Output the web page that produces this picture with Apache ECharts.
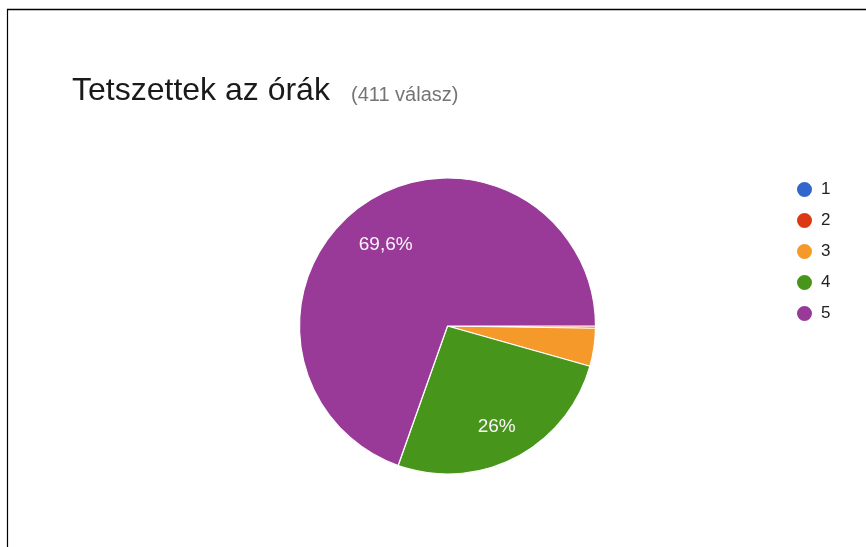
<!DOCTYPE html>
<html>
<head>
<meta charset="utf-8">
<script src="https://cdn.jsdelivr.net/npm/echarts@6/dist/echarts.min.js"></script>
<style>
html,body{margin:0;padding:0;background:#fff;}
#c{width:866px;height:547px;}
</style>
</head>
<body>
<div id="c"></div>
<script>
const titleText = 'Tetszettek az órák';
const subtitleText = '(411 válasz)';
const categories = ['1', '2', '3', '4', '5'];
const counts = [0, 1, 17, 107, 286];
const colors = ['#3366cc', '#dc3912', '#f5992b', '#47961b', '#993a99'];
const shownLabels = ['69,6%', '26%'];

const total = counts.reduce((a, b) => a + b, 0);
function fmtPct(v) {
  const p = Math.round(v / total * 1000) / 10;
  return String(p).replace('.', ',') + '%';
}
const pieData = categories.map((c, i) => ({ name: c, value: counts[i], itemStyle: { color: colors[i] } }));
const labelData = categories.map((c, i) => {
  const txt = fmtPct(counts[i]);
  return { name: c, value: counts[i], label: { show: shownLabels.includes(txt) } };
});

const FONT = 'Liberation Sans';
const chart = echarts.init(document.getElementById('c'), null, { renderer: 'canvas' });
chart.setOption({
  animation: false,
  backgroundColor: '#fff',
  title: [
    {
      left: 67, top: 70,
      text: titleText,
      textStyle: { fontFamily: FONT, fontSize: 32, fontWeight: 'normal', color: '#1a1a1a' }
    },
    {
      left: 346, top: 80,
      text: subtitleText,
      textStyle: { fontFamily: FONT, fontSize: 20, fontWeight: 'normal', color: '#757575' }
    }
  ],
  legend: {
    orient: 'vertical',
    left: 795, top: 180,
    padding: 0,
    icon: 'circle',
    itemWidth: 17, itemHeight: 17,
    itemGap: 12,
    textStyle: { fontFamily: FONT, fontSize: 17, color: '#222', lineHeight: 17, height: 17, padding: [0, 0, 0, 3] },
    data: categories
  },
  graphic: [
    { type: 'line', shape: { x1: 7, y1: 9.5, x2: 866, y2: 9.5 }, style: { stroke: '#000', lineWidth: 1.5 } },
    { type: 'line', shape: { x1: 7.5, y1: 9, x2: 7.5, y2: 547 }, style: { stroke: '#000', lineWidth: 1.2 } }
  ],
  series: [
    {
      type: 'pie',
      center: [447.5, 326],
      radius: [0, 148],
      startAngle: 0,
      clockwise: true,
      data: pieData,
      label: { show: false },
      labelLine: { show: false },
      itemStyle: { borderColor: '#fff', borderWidth: 1.2 },
      emphasis: { disabled: true }
    },
    {
      type: 'pie',
      center: [447.5, 326],
      radius: [60, 148],
      startAngle: 0,
      clockwise: true,
      silent: true,
      legendHoverLink: false,
      data: labelData,
      itemStyle: { color: 'rgba(0,0,0,0)' },
      label: {
        position: 'inside',
        formatter: p => fmtPct(p.value),
        color: '#fbf4fb',
        fontFamily: FONT,
        fontSize: 19
      },
      labelLayout: { dy: 6 },
      labelLine: { show: false },
      emphasis: { disabled: true }
    }
  ]
});
</script>
</body>
</html>
